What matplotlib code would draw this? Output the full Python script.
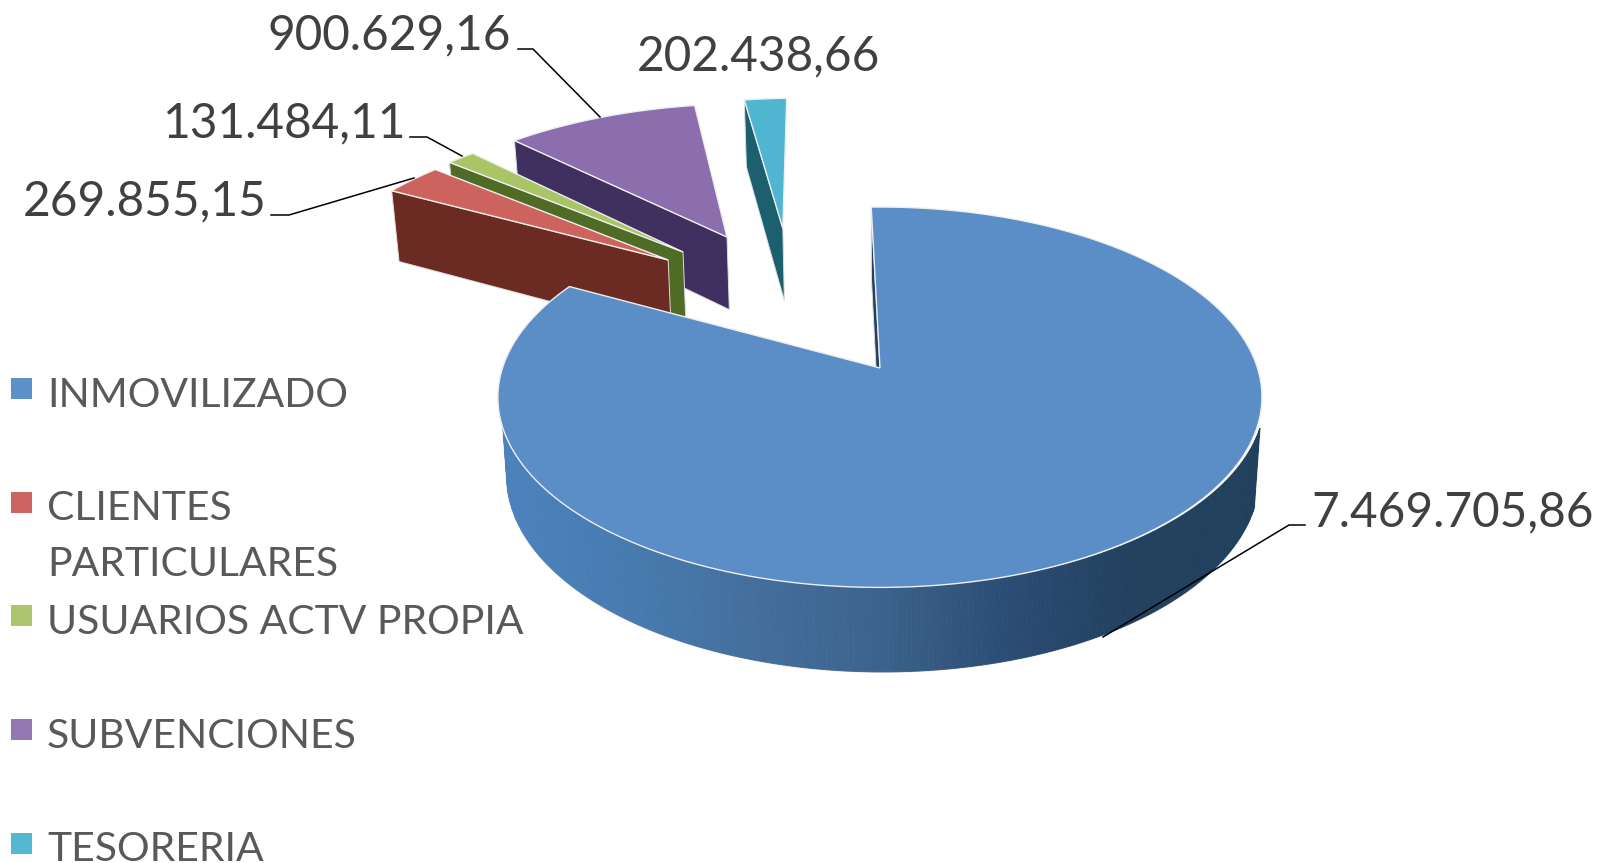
import numpy as np
import matplotlib
matplotlib.use('Agg')
import matplotlib.pyplot as plt
from matplotlib.colors import LinearSegmentedColormap
from matplotlib.patches import Polygon, Rectangle

plt.rcParams['font.family'] = ['Lato', 'DejaVu Sans']

names = ['INMOVILIZADO', 'CLIENTES\nPARTICULARES', 'USUARIOS ACTV PROPIA', 'SUBVENCIONES', 'TESORERIA']
values = [7469705.86, 269855.15, 131484.11, 900629.16, 202438.66]

top_colors = ['#5B8EC6', '#CD635F', '#A9C566', '#8C6DAD', '#4FB5D0']
wall_colors = ['#23405F', '#6B2A22', '#4F6B25', '#40305F', '#1C6070']
legend_colors = ['#5B90C8', '#CC6560', '#ABC66E', '#9478B2', '#54B8D2']

# slice tip position on the disc plane, in radii from the disc centre
tip_u = [-0.008, -0.625, -0.586, -0.4635, -0.300]
tip_v = [0.0, 0.6387, 0.691, 0.791, 0.850]
radius_scale = [1.0, 1.02, 1.025, 1.03, 1.02]

# label text anchor (left, baseline) and leader line points
label_pos = [(1311, 526), (23, 215), (162, 137), (268, 49), (637, 70)]
leaders = [
    [(1305, 525), (1289, 525), (1103, 637)],
    [(271, 215), (289, 215), (414, 178)],
    [(410, 137), (427, 137), (462, 156)],
    [(518, 49), (533, 49), (600, 117)],
    None,
]

START_ANGLE = -1.6
CX, CY = 883, 368
RX, RY = 377.5, 185.7
K = 0.1537
DEPTH, K_DEPTH = 77.4, 0.0837
SHRINK = 0.985

wall_cmap = LinearSegmentedColormap.from_list(
    'wall', ['#4B82BC', '#477BB0', '#446E9C', '#3C638D', '#2B4D75', '#22415F', '#21405E'])


def project(u, v):
    f = 1 + K * v
    return CX + RX * u / f, CY - RY * v / f


def bottom(u, v):
    x, y = project(u, v)
    return CX + (x - CX) * SHRINK, y + DEPTH / (1 + K_DEPTH * v)


def slice_outline(a0, a1, u0, v0, scale):
    t = np.radians(np.linspace(a0, a1, 200))
    return u0 + scale * np.sin(t), v0 + scale * np.cos(t)


fig = plt.figure(figsize=(16.02, 8.63), dpi=100)
ax = fig.add_axes([0, 0, 1, 1])
ax.set_xlim(0, 1602)
ax.set_ylim(863, 0)
ax.axis('off')

total = sum(values)
edges = START_ANGLE + np.concatenate([[0], np.cumsum(values)]) / total * 360

# back slices first, the big one goes on top of them
for i in [4, 3, 2, 1, 0]:
    a0, a1 = edges[i], edges[i + 1]
    u, v = slice_outline(a0, a1, tip_u[i], tip_v[i], radius_scale[i])

    # side wall on the start edge of the slice
    wall_u, wall_v = np.array([u[0], tip_u[i]]), np.array([v[0], tip_v[i]])
    tx, ty = project(wall_u, wall_v)
    bx, by = bottom(wall_u, wall_v)
    ax.add_patch(Polygon(np.column_stack([np.r_[tx, bx[::-1]], np.r_[ty, by[::-1]]]),
                         facecolor=wall_colors[i], edgecolor='#dddddd', linewidth=0.7, zorder=2))

    if i == 0:
        # round outer wall, cut in thin strips to get the shading
        t = np.radians(np.linspace(108, 258, 260))
        su, sv = np.sin(t), np.cos(t)
        xs, ys = project(su, sv)
        xb, yb = bottom(su, sv)
        ax.add_patch(Polygon(np.column_stack([np.r_[xs, xb[::-1]], np.r_[ys, yb[::-1]]]),
                             facecolor='none', edgecolor='#cfcfcf', linewidth=1.2, zorder=2))
        for j in range(len(t) - 1):
            shade = wall_cmap((xs[j] - xs.min()) / (xs.max() - xs.min()))
            quad = [(xs[j], ys[j]), (xs[j + 1], ys[j + 1]), (xb[j + 1], yb[j + 1]), (xb[j], yb[j])]
            ax.add_patch(Polygon(quad, facecolor=shade, edgecolor=shade, linewidth=0.6, zorder=2))

    px, py = project(np.r_[u, tip_u[i]], np.r_[v, tip_v[i]])
    ax.add_patch(Polygon(np.column_stack([px, py]), facecolor=top_colors[i],
                         edgecolor='#eeeeee', linewidth=1.0, zorder=3))

for i, val in enumerate(values):
    txt = f'{val:,.2f}'.replace(',', 'X').replace('.', ',').replace('X', '.')
    ax.text(label_pos[i][0], label_pos[i][1], txt, fontsize=34.4, color='#404040',
            ha='left', va='baseline', zorder=6)
    if leaders[i]:
        ax.plot(*zip(*leaders[i]), color='black', linewidth=1.1, zorder=5)

for i, name in enumerate(names):
    yc = 388.5 + 113.7 * i
    ax.add_patch(Rectangle((11, yc - 10.5), 21, 21, facecolor=legend_colors[i], edgecolor='none', zorder=4))
    for j, line in enumerate(name.split('\n')):
        ax.text(47, yc + 18 + 56 * j, line, fontsize=29.4, color='#595959',
                ha='left', va='baseline', zorder=6)

fig.savefig('out.png', dpi=100)
